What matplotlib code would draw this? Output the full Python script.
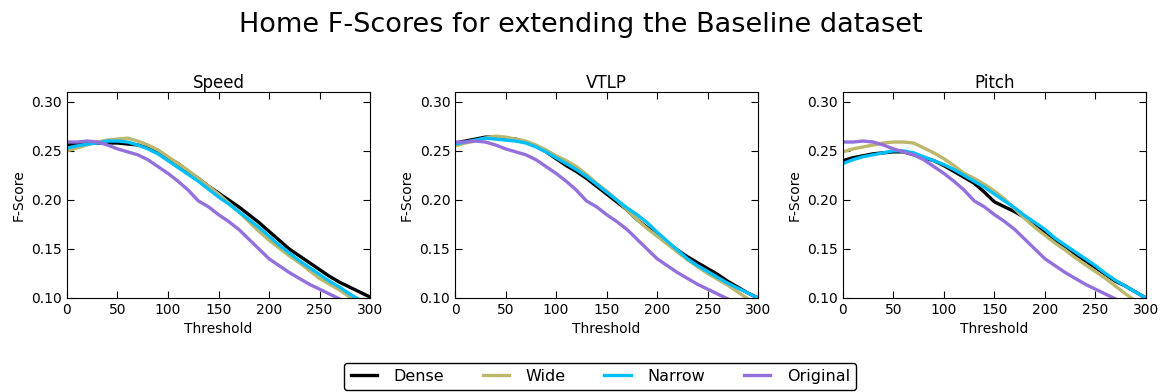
import matplotlib
matplotlib.use("Agg")
import matplotlib.pyplot as plt

thresholds = list(range(0, 301, 10))

original = [0.259, 0.259, 0.260, 0.259, 0.256, 0.252, 0.249, 0.246, 0.241, 0.234, 0.227,
            0.219, 0.210, 0.199, 0.193, 0.185, 0.178, 0.170, 0.160, 0.150, 0.140,
            0.133, 0.126, 0.120, 0.114, 0.109, 0.104, 0.099, 0.094, 0.089, 0.084]

speed_dense = [0.256, 0.257, 0.258, 0.258, 0.258, 0.258, 0.257, 0.256, 0.253, 0.249, 0.243,
               0.237, 0.229, 0.222, 0.214, 0.207, 0.200, 0.193, 0.185, 0.177, 0.168,
               0.159, 0.150, 0.143, 0.136, 0.129, 0.122, 0.116, 0.111, 0.106, 0.101]
speed_wide = [0.250, 0.253, 0.256, 0.259, 0.261, 0.262, 0.263, 0.260, 0.256, 0.251, 0.244,
              0.237, 0.230, 0.222, 0.214, 0.206, 0.197, 0.188, 0.178, 0.168, 0.159,
              0.151, 0.143, 0.136, 0.128, 0.120, 0.114, 0.108, 0.101, 0.095, 0.090]
speed_narrow = [0.253, 0.255, 0.257, 0.258, 0.260, 0.260, 0.259, 0.256, 0.252, 0.247, 0.240,
                0.233, 0.226, 0.219, 0.211, 0.203, 0.196, 0.188, 0.180, 0.172, 0.163,
                0.154, 0.146, 0.138, 0.131, 0.124, 0.117, 0.111, 0.104, 0.098, 0.092]

vtlp_dense = [0.258, 0.260, 0.262, 0.264, 0.264, 0.263, 0.262, 0.259, 0.255, 0.249, 0.242,
              0.235, 0.229, 0.222, 0.214, 0.206, 0.198, 0.190, 0.180, 0.172, 0.164,
              0.156, 0.149, 0.142, 0.136, 0.130, 0.124, 0.117, 0.111, 0.105, 0.100]
vtlp_wide = [0.255, 0.258, 0.260, 0.263, 0.265, 0.264, 0.262, 0.260, 0.256, 0.251, 0.245,
             0.240, 0.234, 0.226, 0.217, 0.209, 0.200, 0.190, 0.180, 0.171, 0.163,
             0.155, 0.147, 0.139, 0.132, 0.125, 0.119, 0.113, 0.106, 0.099, 0.094]
vtlp_narrow = [0.257, 0.259, 0.261, 0.263, 0.262, 0.261, 0.260, 0.258, 0.254, 0.249, 0.243,
               0.237, 0.231, 0.224, 0.216, 0.208, 0.200, 0.192, 0.185, 0.177, 0.167,
               0.158, 0.149, 0.140, 0.133, 0.127, 0.121, 0.115, 0.110, 0.105, 0.100]

pitch_dense = [0.240, 0.243, 0.245, 0.247, 0.248, 0.249, 0.249, 0.246, 0.243, 0.240, 0.235,
               0.229, 0.223, 0.217, 0.208, 0.198, 0.193, 0.188, 0.182, 0.174, 0.167,
               0.159, 0.152, 0.145, 0.138, 0.131, 0.124, 0.117, 0.112, 0.106, 0.100]
pitch_wide = [0.249, 0.252, 0.254, 0.256, 0.258, 0.259, 0.259, 0.258, 0.253, 0.248, 0.242,
              0.235, 0.227, 0.222, 0.216, 0.209, 0.201, 0.191, 0.181, 0.172, 0.164,
              0.156, 0.149, 0.141, 0.134, 0.127, 0.120, 0.112, 0.104, 0.097, 0.091]
pitch_narrow = [0.237, 0.241, 0.244, 0.246, 0.248, 0.250, 0.250, 0.248, 0.244, 0.240, 0.236,
                0.231, 0.225, 0.219, 0.213, 0.206, 0.199, 0.192, 0.184, 0.177, 0.170,
                0.161, 0.154, 0.147, 0.140, 0.133, 0.125, 0.118, 0.112, 0.106, 0.100]

panels = [
    ("Speed", speed_dense, speed_wide, speed_narrow),
    ("VTLP", vtlp_dense, vtlp_wide, vtlp_narrow),
    ("Pitch", pitch_dense, pitch_wide, pitch_narrow),
]
names = ["Dense", "Wide", "Narrow", "Original"]
colors = ["black", "#bdb76b", "#00bfff", "#9370db"]

fig = plt.figure(figsize=(11.61, 3.92), dpi=100)
lefts = [0.0577, 0.392, 0.726]
for left, (title, dense, wide, narrow) in zip(lefts, panels):
    ax = fig.add_axes([left, 0.2398, 0.261, 0.5255])
    for vals, c, n in zip([dense, wide, narrow, original], colors, names):
        ax.plot(thresholds, vals, color=c, lw=2.4, label=n)
    ax.set_xlim(0, 300)
    ax.set_ylim(0.10, 0.31)
    ax.set_xticks(range(0, 301, 50))
    ax.set_yticks([0.10, 0.15, 0.20, 0.25, 0.30])
    ax.tick_params(direction="in", top=True, right=True, labelsize=10, length=5)
    ax.set_title(title, fontsize=12, pad=3)
    ax.set_xlabel("Threshold", fontsize=10)
    ax.set_ylabel("F-Score", fontsize=10)

fig.suptitle("Home F-Scores for extending the Baseline dataset", fontsize=19.5, y=0.97)
handles, labels = ax.get_legend_handles_labels()
# legend sits a little right of centre and runs off the bottom edge
leg = fig.legend(handles, labels, loc="upper center", bbox_to_anchor=(0.517, 0.075),
                 ncol=4, fontsize=11.5, frameon=True, fancybox=True, borderaxespad=0,
                 columnspacing=2.4, handlelength=1.65, handletextpad=1.05)
leg.get_frame().set_edgecolor("black")
leg.get_frame().set_alpha(1)
fig.savefig("out.png", dpi=100)
